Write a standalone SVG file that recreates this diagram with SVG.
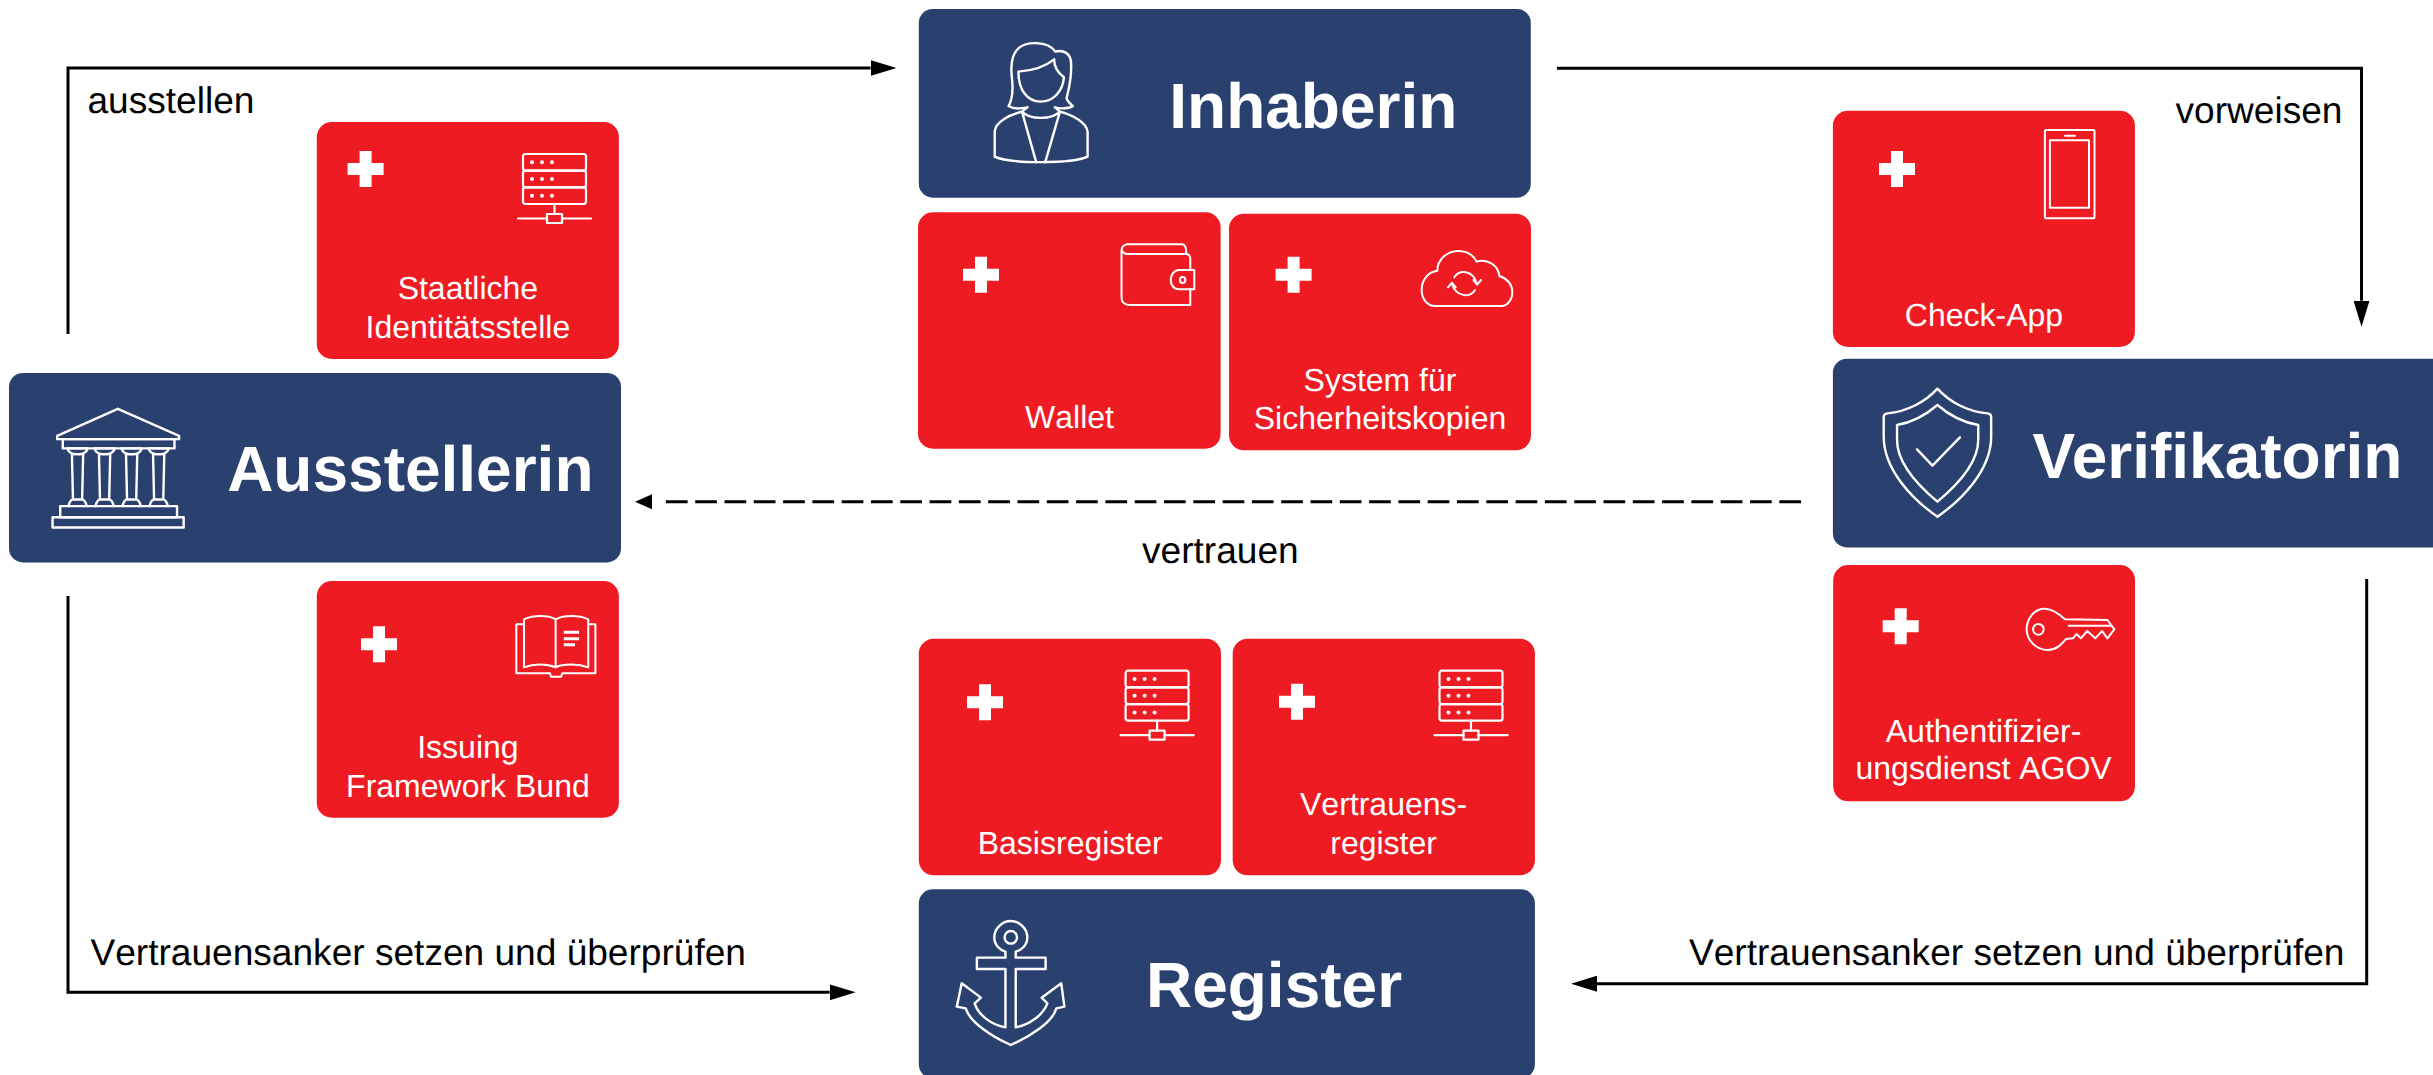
<svg xmlns="http://www.w3.org/2000/svg" xmlns:xlink="http://www.w3.org/1999/xlink" width="2433" height="1075" viewBox="0 0 2433 1075">
<style>
text{font-family:"Liberation Sans",Arial,sans-serif;font-kerning:none;text-rendering:geometricPrecision}
.navy{fill:#2A4170}
.red{fill:#EE1B22}
.title{font-size:64px;font-weight:700;fill:#fff;text-anchor:middle;font-kerning:normal}
.lbl{font-size:32px;fill:#fff;text-anchor:middle}
.cap{font-size:37.1px;fill:#000}
.ic{fill:none;stroke:#fff;stroke-width:2.4;stroke-linejoin:round;stroke-linecap:round;vector-effect:non-scaling-stroke}
.ic *{vector-effect:non-scaling-stroke}
.cross{fill:#fff}
.dot{fill:#fff}
.conn{fill:none;stroke:#000;stroke-width:3}
</style>
<defs>
<marker id="arrow" markerUnits="userSpaceOnUse" markerWidth="26" markerHeight="16" viewBox="0 0 26 16" refX="0" refY="8" orient="auto"><path d="M0 0L26 8L0 16Z" fill="#000"/></marker>
<marker id="arrowSmall" markerUnits="userSpaceOnUse" markerWidth="17" markerHeight="15" viewBox="0 0 17 15" refX="-13" refY="7.5" orient="auto" overflow="visible"><path d="M0 0L17 7.5L0 15Z" fill="#000"/></marker>
<path id="swiss" class="cross" d="M-6-18h12v12h12v12h-12v12h-12v-12h-12v-12h12z"/>
<g id="server">
<g class="ic" style="stroke-width:2.2">
<rect x="5" y="0" width="63" height="16.7" rx="2.5"/>
<rect x="5" y="16.7" width="63" height="16.7" rx="2.5"/>
<rect x="5" y="33.4" width="63" height="16.6" rx="2.5"/>
<path d="M36.5 50V60M0 64.5H29M44 64.5H73"/>
<rect x="29" y="60" width="15" height="9"/>
</g>
<g class="dot"><circle cx="14" cy="8.3" r="2"/><circle cx="24" cy="8.3" r="2"/><circle cx="34" cy="8.3" r="2"/><circle cx="14" cy="25" r="2"/><circle cx="24" cy="25" r="2"/><circle cx="34" cy="25" r="2"/><circle cx="14" cy="41.7" r="2"/><circle cx="24" cy="41.7" r="2"/><circle cx="34" cy="41.7" r="2"/></g>
</g>
<path id="column" class="ic" d="M-20 1212H20Q17 1226 5 1228H-5Q-17 1226-20 1212ZM-11 1228L-9 1350M11 1228L9 1350M-18 1368Q-15 1352-9 1350H9Q15 1352 18 1368"/>
</defs>

<g id="connectors">
<path class="conn" d="M68 334V68H870.5" marker-end="url(#arrow)"/>
<path class="conn" d="M1557 68.3H2361.5V300.7" marker-end="url(#arrow)"/>
<path class="conn" d="M68 596V992.3H829.7" marker-end="url(#arrow)"/>
<path class="conn" d="M2366.7 579V983.7H1597" marker-end="url(#arrow)"/>
<path class="conn" d="M1801 501.8H665" stroke-dasharray="21.7 7.6" marker-end="url(#arrowSmall)"/>
</g>
<g id="connector-labels">
<text class="cap" x="87.5" y="113">ausstellen</text>
<text class="cap" x="2175.5" y="123.3">vorweisen</text>
<text class="cap" x="1142" y="562.7">vertrauen</text>
<text class="cap" x="90.5" y="965">Vertrauensanker setzen und überprüfen</text>
<text class="cap" x="1689" y="965">Vertrauensanker setzen und überprüfen</text>
</g>

<g id="node-ausstellerin">
<rect class="navy" x="9" y="373" width="612" height="189.4" rx="14"/>
<g class="ic" transform="scale(0.5102,0.36996)">
<path d="M112 1178L231 1105L351 1178V1187H112Z"/>
<rect x="123" y="1187" width="219" height="25"/>
<use xlink:href="#column" href="#column" x="152"/><use xlink:href="#column" href="#column" x="205"/><use xlink:href="#column" href="#column" x="258"/><use xlink:href="#column" href="#column" x="311"/>
<rect x="118" y="1368" width="229" height="30"/>
<rect x="103" y="1398" width="257" height="28"/>
</g>
<text class="title" x="410.3" y="491">Ausstellerin</text>
</g>
<g id="node-inhaberin">
<rect class="navy" x="918.8" y="9" width="612" height="188.7" rx="14"/>
<g class="ic" transform="translate(880,0) scale(0.44643,0.33333)">
<path d="M330 322C310 328 296 325 288 318C296 300 298 270 296 240C292 200 293 165 310 145C325 125 375 120 393 155C410 148 428 160 428 190C430 240 420 280 418 295C420 305 430 315 432 318C425 325 405 328 392 322"/>
<path d="M310 215C340 212 370 200 390 178C390 200 400 220 412 232C410 270 390 305 360 305C330 305 310 270 310 215Z"/>
<path d="M330 322L318 335C290 345 258 365 257 395V470C290 492 430 492 465 470V395C462 365 430 345 403 335L392 322M318 335L350 487M403 335L370 487M318 335C335 360 385 360 403 335"/>
</g>
<text class="title" x="1313.3" y="128">Inhaberin</text>
</g>
<g id="node-verifikatorin">
<rect class="navy" x="1832.9" y="358.7" width="620" height="188.7" rx="14"/>
<g class="ic" transform="translate(1780,50) scale(0.41649,0.33333)">
<path d="M378 1016C350 1055 305 1085 258 1090Q249 1092 249 1100V1160C249 1260 320 1350 378 1400C436 1350 507 1260 507 1160V1100Q507 1092 498 1090C450 1085 406 1055 378 1016Z"/>
<path d="M378 1065C350 1095 315 1118 281 1125V1170C281 1240 330 1305 378 1355C426 1305 476 1240 476 1170V1125C441 1118 406 1095 378 1065Z"/>
<path d="M329 1198L366 1247L432 1162"/>
</g>
<text class="title" x="2217.5" y="477.7">Verifikatorin</text>
</g>
<g id="node-register">
<rect class="navy" x="918.8" y="889.3" width="616.1" height="189" rx="14"/>
<g class="ic" transform="translate(880,620) scale(0.44643,0.33333)">
<path d="M281 995V1013H217V1047H281V1222C250 1215 220 1185 212 1150L226 1133L183 1090L172 1160L192 1165C200 1205 250 1250 293 1275C336 1250 388 1205 395 1165L413 1160L406 1090L362 1133L375 1150C365 1185 335 1215 304 1222V1047H371V1013H304V995C318 990 330 975 330 952C330 925 312 903 293 903C274 903 256 925 256 952C256 975 268 990 281 995Z"/>
<ellipse cx="293" cy="952" rx="14" ry="19"/>
</g>
<text class="title" x="1274" y="1007.3">Register</text>
</g>

<g id="card-identitaetsstelle">
<rect class="red" x="316.8" y="122" width="302.1" height="236.9" rx="15"/>
<use xlink:href="#swiss" href="#swiss" x="365.6" y="169"/>
<use xlink:href="#server" href="#server" x="518" y="154"/>
<text class="lbl" x="467.9" y="298.5">Staatliche</text>
<text class="lbl" x="467.9" y="337.7">Identitätsstelle</text>
</g>
<g id="card-issuing">
<rect class="red" x="316.8" y="581" width="302.1" height="236.7" rx="15"/>
<use xlink:href="#swiss" href="#swiss" x="379" y="644.3"/>
<g class="ic" style="stroke-width:2" transform="translate(0,560) scale(0.5102,0.33333)">
<path d="M1089 322C1070 310 1045 312 1027 322V178C1045 165 1075 165 1089 178ZM1089 178C1105 165 1135 165 1153 178V322C1135 312 1105 310 1089 322"/>
<path d="M1027 193H1012V340H1078L1080 350H1100L1102 340H1167V193H1153"/>
<path d="M1105 217H1135M1105 236H1135M1105 254H1127" style="stroke-width:3;stroke-linecap:butt"/>
</g>
<text class="lbl" x="467.9" y="757.5">Issuing</text>
<text class="lbl" x="467.9" y="796.7">Framework Bund</text>
</g>
<g id="card-wallet">
<rect class="red" x="918" y="212.3" width="302.6" height="236.4" rx="15"/>
<use xlink:href="#swiss" href="#swiss" x="981" y="274.7"/>
<g class="ic" style="stroke-width:2" transform="translate(880,0) scale(0.44643,0.33333)">
<path d="M552 762C538 755 538 740 552 733H675C685 733 686 745 686 762"/>
<path d="M541 750V895C541 908 550 915 560 915H695V868M695 810V775C695 765 690 762 685 762H552"/>
<path d="M704 810H670C645 812 645 868 670 868H704Z"/>
<ellipse cx="678" cy="840" rx="6" ry="9"/>
</g>
<text class="lbl" x="1069.5" y="428">Wallet</text>
</g>
<g id="card-backup">
<rect class="red" x="1229" y="213.7" width="302" height="236.6" rx="15"/>
<use xlink:href="#swiss" href="#swiss" x="1293.6" y="274.7"/>
<g class="ic" style="stroke-width:2" transform="translate(1420,240) scale(0.33333)">
<path d="M45 198C20 198 5 175 5 150C5 120 25 95 52 92C52 60 80 33 115 33C140 33 160 45 170 65C200 55 235 75 238 108C262 115 277 135 277 155C277 180 262 198 245 198Z"/>
<path d="M103 112C118 88 158 90 170 130M160 120L171 134L183 120M165 150C150 175 108 170 96 132M84 142L96 128L107 142"/>
</g>
<text class="lbl" x="1380" y="391">System für</text>
<text class="lbl" x="1380" y="429">Sicherheitskopien</text>
</g>
<g id="card-check-app">
<rect class="red" x="1832.9" y="110.7" width="302" height="236.3" rx="15"/>
<use xlink:href="#swiss" href="#swiss" x="1897" y="169"/>
<g class="ic" style="stroke-width:2">
<rect x="2044.9" y="130" width="49.6" height="88.3" rx="1"/>
<rect x="2049.9" y="140.3" width="39.1" height="67.4"/>
<path d="M2065 135.7H2075"/>
</g>
<text class="lbl" x="1984" y="325.5">Check-App</text>
</g>
<g id="card-agov">
<rect class="red" x="1833.2" y="565" width="301.8" height="236.3" rx="15"/>
<use xlink:href="#swiss" href="#swiss" x="1900.7" y="626.3"/>
<g class="ic" style="stroke-width:2" transform="translate(1600,560) scale(0.53135,0.33333)">
<path d="M875 178C860 155 845 145 835 146C815 148 803 180 803 208C803 240 820 270 843 270C860 270 870 250 877 237L890 235L897 222L905 235L917 213L932 235L945 213L955 235L968 208L955 180Z"/>
<path d="M882 197H962"/>
<ellipse cx="825" cy="208" rx="10" ry="16"/>
</g>
<text class="lbl" x="1983.6" y="741.7">Authentifizier-</text>
<text class="lbl" x="1983.6" y="779.3">ungsdienst AGOV</text>
</g>
<g id="card-basisregister">
<rect class="red" x="918.8" y="638.7" width="302.2" height="236.6" rx="15"/>
<use xlink:href="#swiss" href="#swiss" x="985" y="702.3"/>
<use xlink:href="#server" href="#server" x="1120.6" y="670.7"/>
<text class="lbl" x="1070.2" y="853.6">Basisregister</text>
</g>
<g id="card-vertrauensregister">
<rect class="red" x="1232.7" y="638.7" width="302.2" height="236.6" rx="15"/>
<use xlink:href="#swiss" href="#swiss" x="1297" y="701.7"/>
<use xlink:href="#server" href="#server" x="1434.5" y="670.7"/>
<text class="lbl" x="1383.6" y="815.3">Vertrauens-</text>
<text class="lbl" x="1383.6" y="853.6">register</text>
</g>
</svg>
